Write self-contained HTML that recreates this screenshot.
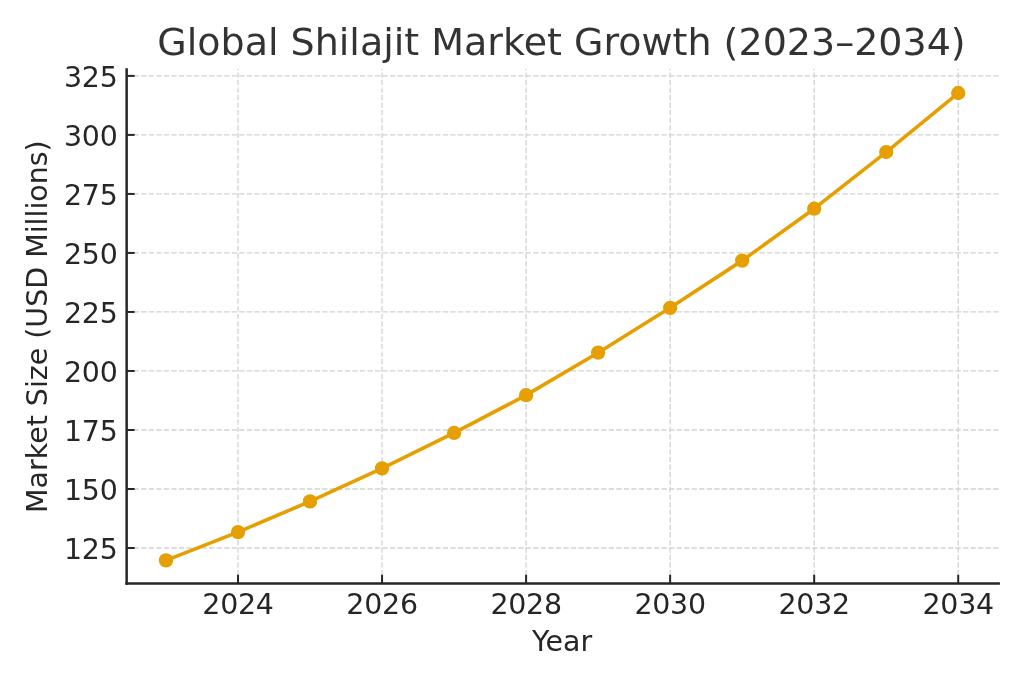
<!DOCTYPE html>
<html lang="en"><head><meta charset="utf-8"><title>Global Shilajit Market Growth (2023–2034)</title>
<style>
html,body{margin:0;padding:0;background:#fff;}
body{width:1024px;height:683px;overflow:hidden;}
svg{display:block;}
text{font-family:"DejaVu Sans","Liberation Sans",sans-serif;}
</style></head><body>
<svg width="1024" height="683" viewBox="0 0 1024 683">
<rect width="1024" height="683" fill="#ffffff"/>
<g stroke="#d2d2d2" stroke-width="1.3" stroke-dasharray="5.26 2.28" stroke-dashoffset="0.5" fill="none">
<line x1="238.02" y1="583.45" x2="238.02" y2="68.65" stroke-dashoffset="-0.6"/>
<line x1="382.06" y1="583.45" x2="382.06" y2="68.65" stroke-dashoffset="-0.6"/>
<line x1="526.10" y1="583.45" x2="526.10" y2="68.65" stroke-dashoffset="-0.6"/>
<line x1="670.14" y1="583.45" x2="670.14" y2="68.65" stroke-dashoffset="-0.6"/>
<line x1="814.18" y1="583.45" x2="814.18" y2="68.65" stroke-dashoffset="-0.6"/>
<line x1="958.22" y1="583.45" x2="958.22" y2="68.65" stroke-dashoffset="-0.6"/>
<line x1="126.65" y1="548.00" x2="998.7" y2="548.00"/>
<line x1="126.65" y1="488.99" x2="998.7" y2="488.99"/>
<line x1="126.65" y1="429.98" x2="998.7" y2="429.98"/>
<line x1="126.65" y1="370.96" x2="998.7" y2="370.96"/>
<line x1="126.65" y1="311.95" x2="998.7" y2="311.95"/>
<line x1="126.65" y1="252.94" x2="998.7" y2="252.94"/>
<line x1="126.65" y1="193.93" x2="998.7" y2="193.93"/>
<line x1="126.65" y1="134.91" x2="998.7" y2="134.91"/>
<line x1="126.65" y1="75.90" x2="998.7" y2="75.90"/>
</g>
<polyline points="166.00,560.40 238.02,532.08 310.04,501.39 382.06,468.34 454.08,432.94 526.10,395.17 598.12,352.68 670.14,307.83 742.16,260.62 814.18,208.69 886.20,152.04 958.22,93.02" fill="none" stroke="#E69F00" stroke-width="3.6" stroke-linejoin="round" stroke-linecap="butt"/>
<g fill="#E69F00">
<circle cx="166.00" cy="560.40" r="7.15"/>
<circle cx="238.02" cy="532.08" r="7.15"/>
<circle cx="310.04" cy="501.39" r="7.15"/>
<circle cx="382.06" cy="468.34" r="7.15"/>
<circle cx="454.08" cy="432.94" r="7.15"/>
<circle cx="526.10" cy="395.17" r="7.15"/>
<circle cx="598.12" cy="352.68" r="7.15"/>
<circle cx="670.14" cy="307.83" r="7.15"/>
<circle cx="742.16" cy="260.62" r="7.15"/>
<circle cx="814.18" cy="208.69" r="7.15"/>
<circle cx="886.20" cy="152.04" r="7.15"/>
<circle cx="958.22" cy="93.02" r="7.15"/>
</g>
<g stroke="#262626" stroke-width="2" fill="none">
<line x1="238.02" y1="583.45" x2="238.02" y2="574.75"/>
<line x1="382.06" y1="583.45" x2="382.06" y2="574.75"/>
<line x1="526.10" y1="583.45" x2="526.10" y2="574.75"/>
<line x1="670.14" y1="583.45" x2="670.14" y2="574.75"/>
<line x1="814.18" y1="583.45" x2="814.18" y2="574.75"/>
<line x1="958.22" y1="583.45" x2="958.22" y2="574.75"/>
<line x1="126.65" y1="548.00" x2="134.65" y2="548.00"/>
<line x1="126.65" y1="488.99" x2="134.65" y2="488.99"/>
<line x1="126.65" y1="429.98" x2="134.65" y2="429.98"/>
<line x1="126.65" y1="370.96" x2="134.65" y2="370.96"/>
<line x1="126.65" y1="311.95" x2="134.65" y2="311.95"/>
<line x1="126.65" y1="252.94" x2="134.65" y2="252.94"/>
<line x1="126.65" y1="193.93" x2="134.65" y2="193.93"/>
<line x1="126.65" y1="134.91" x2="134.65" y2="134.91"/>
<line x1="126.65" y1="75.90" x2="134.65" y2="75.90"/>
</g>
<g stroke="#262626" stroke-width="2.5" fill="none" stroke-linecap="butt">
<line x1="126.65" y1="584.7" x2="126.65" y2="68.2"/>
<line x1="125.4" y1="583.45" x2="999.9000000000001" y2="583.45"/>
</g>
<g fill="#262626" font-size="28.44" letter-spacing="-0.25">
<text x="238.02" y="614.0" text-anchor="middle">2024</text>
<text x="382.06" y="614.0" text-anchor="middle">2026</text>
<text x="526.10" y="614.0" text-anchor="middle">2028</text>
<text x="670.14" y="614.0" text-anchor="middle">2030</text>
<text x="814.18" y="614.0" text-anchor="middle">2032</text>
<text x="958.22" y="614.0" text-anchor="middle">2034</text>
<text x="117.5" y="558.90" text-anchor="end">125</text>
<text x="117.5" y="499.89" text-anchor="end">150</text>
<text x="117.5" y="440.88" text-anchor="end">175</text>
<text x="117.5" y="381.86" text-anchor="end">200</text>
<text x="117.5" y="322.85" text-anchor="end">225</text>
<text x="117.5" y="263.84" text-anchor="end">250</text>
<text x="117.5" y="204.83" text-anchor="end">275</text>
<text x="117.5" y="145.81" text-anchor="end">300</text>
<text x="117.5" y="86.80" text-anchor="end">325</text>
</g>
<text x="562.0" y="651.2" text-anchor="middle" font-size="28.44" fill="#262626">Year</text>
<text transform="translate(47,326.65) rotate(-90)" text-anchor="middle" font-size="28.44" fill="#262626">Market Size (USD Millions)</text>
<text x="561.5" y="54.5" text-anchor="middle" font-size="38.00" fill="#333333">Global Shilajit Market Growth (2023–2034)</text>
</svg></body></html>
